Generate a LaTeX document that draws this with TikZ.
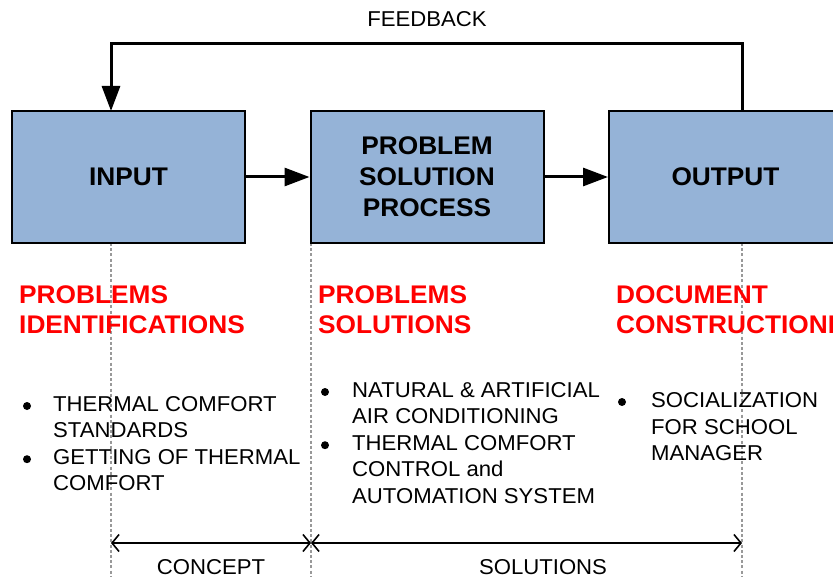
\documentclass[tikz,border=0pt]{standalone}
\usepackage{fontspec}
\setmainfont[FakeStretch=1.03]{Liberation Sans}
\usetikzlibrary{arrows.meta}
\definecolor{boxfill}{HTML}{95B3D7}
\definecolor{headred}{HTML}{FF0000}
\definecolor{guide}{HTML}{999999}
\begin{document}
\begin{tikzpicture}[x=1pt,y=-1pt,
  stage/.style={draw=black, line width=2pt, fill=boxfill, minimum width=233pt,
    minimum height=132pt, inner sep=0pt, align=center,
    font=\fontsize{25.5}{31}\selectfont\bfseries},
  flow/.style={line width=3pt, -{Triangle[length=25pt,width=18pt]}},
  heading/.style={anchor=base west, inner sep=0pt, text=headred,
    font=\fontsize{25.5}{29}\selectfont\bfseries},
  body/.style={anchor=base west, inner sep=0pt, font=\fontsize{21.5}{26.6}\selectfont},
  dot/.style={circle, fill=black, inner sep=0pt, minimum size=8pt},
  caption/.style={inner sep=0pt, font=\fontsize{21.5}{26}\selectfont},
  guideline/.style={guide, line width=1.3pt, dash pattern=on 3pt off 2.2pt},
  span/.style={line width=1.8pt, {Straight Barb[length=7pt,width=17pt,line width=1.6pt]}-{Straight Barb[length=7pt,width=17pt,line width=1.6pt]}}
]
\useasboundingbox (0,0) rectangle (833,577);
\clip (0,0) rectangle (833,577);
\fill[white] (0,0) rectangle (833,577);

% vertical guide lines
\coordinate (g1t) at (111,243);  \coordinate (g1b) at (111,577);
\coordinate (g2t) at (311,243);  \coordinate (g2b) at (311,577);
\coordinate (g3t) at (742,243);  \coordinate (g3b) at (742,577);
\draw[guideline] (g1t) -- (g1b);
\draw[guideline] (g2t) -- (g2b);
\draw[guideline] (g3t) -- (g3b);

% stages
\node[stage] (input)   at (128.5,177) {INPUT};
\node[stage] (process) at (427,177)   {PROBLEM\\SOLUTION\\PROCESS};
\node[stage] (output)  at (725.5,177) {OUTPUT};

\draw[flow] (input.east) -- (process.west);
\draw[flow] (process.east) -- (output.west);

% feedback loop
\coordinate (fbstart) at (742,111);
\coordinate (fbend)   at (111,111);
\draw[flow] (fbstart) -- (742,44) -- (111,44) -- (fbend);
\node[caption, anchor=base] (fbtext) at (427,26.7) {FEEDBACK};

% column headings
\node[heading] (h1a) at (19,303.3) {PROBLEMS};
\node[heading] (h1b) at (19,334) {IDENTIFICATIONS};
\node[heading] (h2a) at (318,303.3) {PROBLEMS};
\node[heading] (h2b) at (318,334) {SOLUTIONS};
\node[heading] (h3a) at (616,303.3) {DOCUMENT};
\node[heading] (h3b) at (616,334) {CONSTRUCTIONI};

% first column
\node[dot] (b1a) at (27,406) {};
\node[body] (t1a) at (53,411)   {THERMAL COMFORT};
\node[body] (t1b) at (53,437.6) {STANDARDS};
\node[dot] (b1b) at (27,459.2) {};
\node[body] (t1c) at (53,464.2) {GETTING OF THERMAL};
\node[body] (t1d) at (53,490.8) {COMFORT};

% second column
\node[dot] (b2a) at (325,392) {};
\node[body] (t2a) at (352,397)   {NATURAL \& ARTIFICIAL};
\node[body] (t2b) at (352,423.6) {AIR CONDITIONING};
\node[dot] (b2b) at (325,445.2) {};
\node[body] (t2c) at (352,450.2) {THERMAL COMFORT};
\node[body] (t2d) at (352,476.8) {CONTROL and};
\node[body] (t2e) at (352,503.4) {AUTOMATION SYSTEM};

% third column
\node[dot] (b3a) at (622,402) {};
\node[body] (t3a) at (651,407.5) {SOCIALIZATION};
\node[body] (t3b) at (651,434.1) {FOR SCHOOL};
\node[body] (t3c) at (651,460.7) {MANAGER};

% phase spans
\coordinate (s1) at (111,543);
\coordinate (s2) at (311,543);
\coordinate (s3) at (742,543);
\draw[span] (s1) -- (s2);
\draw[span] (s2) -- (s3);
\node[caption, anchor=base] (concept)   at (211,574.5) {CONCEPT};
\node[caption, anchor=base] (solutions) at (543,574.5) {SOLUTIONS};
\end{tikzpicture}
\end{document}
